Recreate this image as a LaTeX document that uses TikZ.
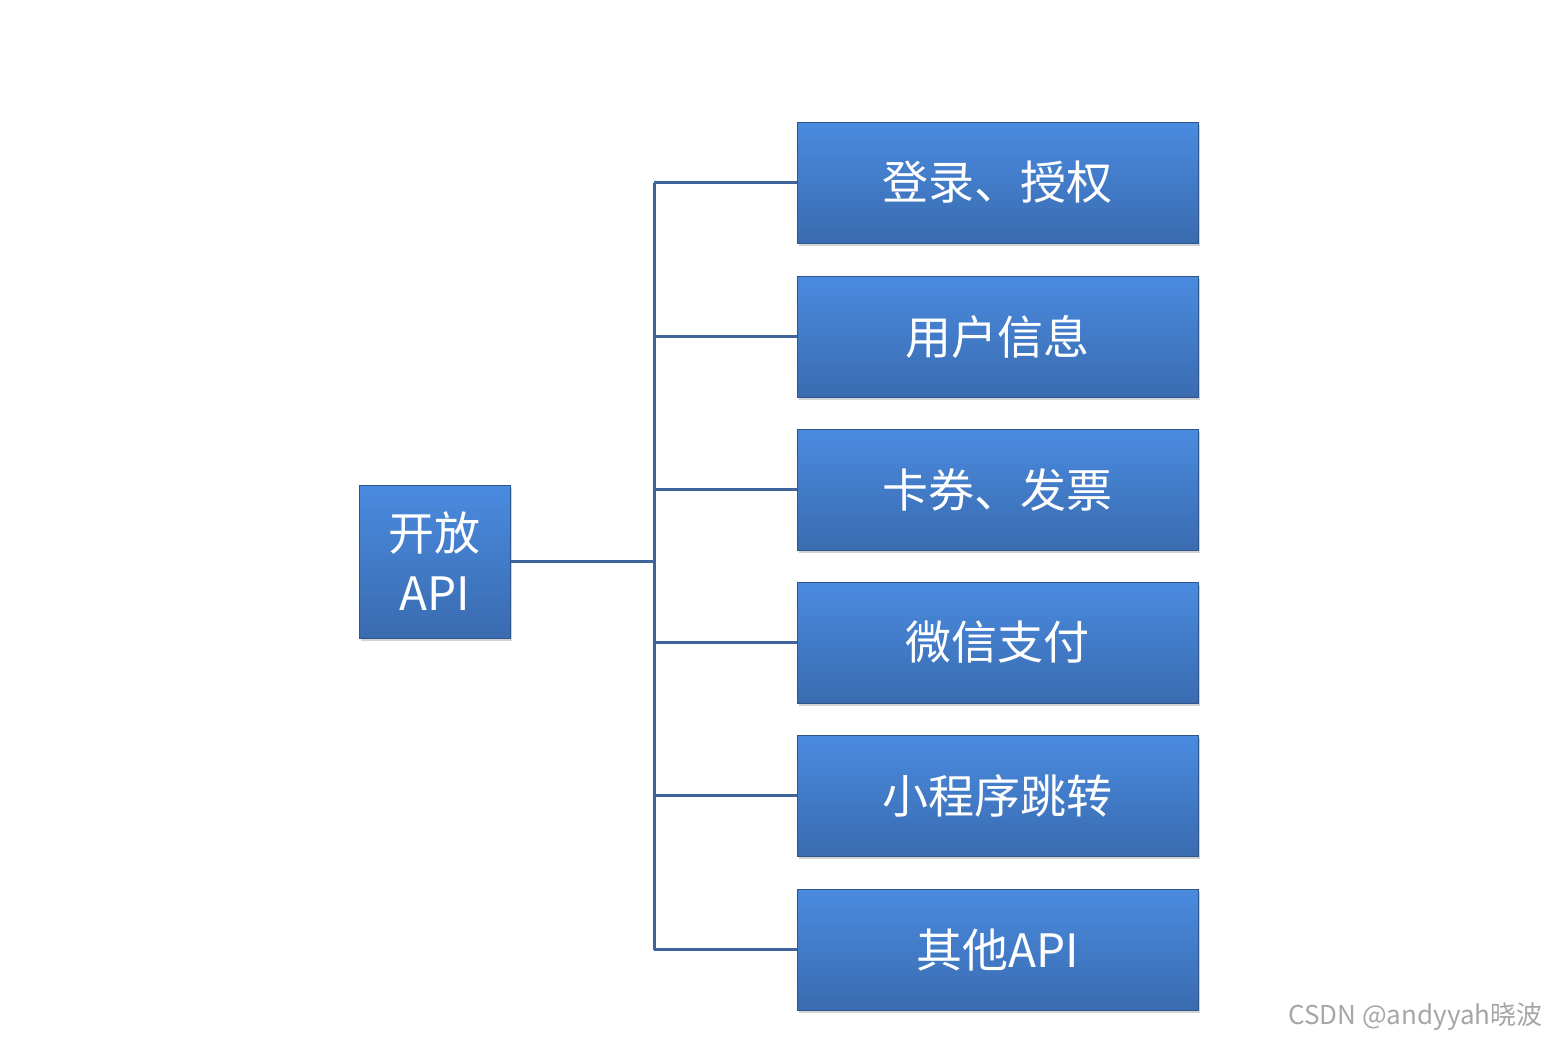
\documentclass[tikz,border=0pt]{standalone}
\usepackage{fontspec}
\setmainfont{Noto Sans CJK SC}
\usetikzlibrary{shadows}
\definecolor{topc}{HTML}{4A8BDF}
\definecolor{botc}{HTML}{3A6BB0}
\definecolor{linec}{HTML}{3F649A}
\begin{document}
\begin{tikzpicture}[x=1pt,y=-1pt,
  box/.style={draw=botc!80!black,line width=1pt,top color=topc,bottom color=botc,
    minimum width=401pt,minimum height=121pt,text=white,font=\fontsize{46}{52}\selectfont,
    drop shadow={shadow xshift=2pt,shadow yshift=-3pt,opacity=0.35},inner sep=0pt},
  conn/.style={draw=linec,line width=3pt}]
\useasboundingbox (0,0) rectangle (1549,1044);
\node[box,minimum width=151pt,minimum height=153pt,align=center,font=\fontsize{46}{60}\selectfont] (root) at (434.5,561.5) {开放\\API};
\node[box] (b1) at (997.5,182.5) {登录、授权};
\node[box] (b2) at (997.5,336.5) {用户信息};
\node[box] (b3) at (997.5,489.5) {卡券、发票};
\node[box] (b4) at (997.5,642.5) {微信支付};
\node[box] (b5) at (997.5,795.5) {小程序跳转};
\node[box] (b6) at (997.5,949.5) {其他API};
\coordinate (j) at (654,561.5);
\draw[conn] (root.east) -- (j);
\foreach \b in {b1,b2,b3,b4,b5,b6} \draw[conn] (\b.west) -- (j |- \b.west);
\draw[conn] (j |- b1.west) -- (j |- b6.west);
\node[anchor=east,text=black!35,font=\fontsize{26}{30}\selectfont] (wm) at (1546,1017) {CSDN @andyyah晓波};
\end{tikzpicture}
\end{document}
